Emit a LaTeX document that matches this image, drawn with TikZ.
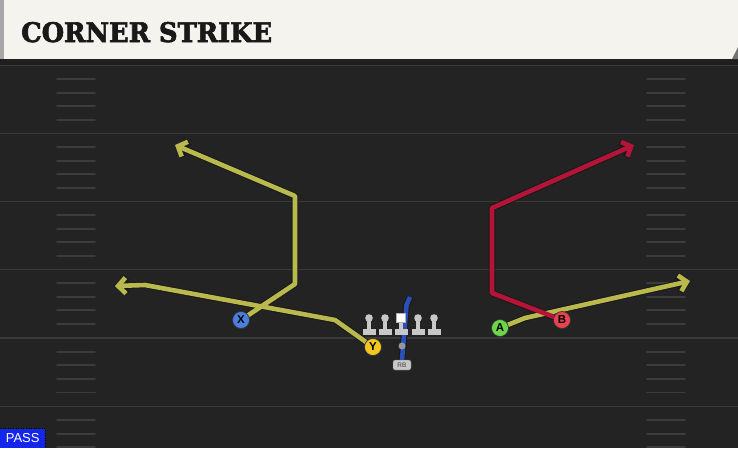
\documentclass[tikz,border=0pt]{standalone}
\usepackage{fontspec}
\usetikzlibrary{arrows.meta}
\newfontfamily\titlefont{DejaVu Serif Bold}[FakeBold=2.5]
\newfontfamily\labfont{Liberation Sans}
\definecolor{fieldbg}{HTML}{232323}
\definecolor{headbg}{HTML}{F5F3EE}
\definecolor{yardc}{HTML}{3A3A3A}
\definecolor{hashc}{HTML}{3C3C3C}
\definecolor{routey}{HTML}{BAB94E}
\definecolor{router}{HTML}{B41437}
\definecolor{routeb}{HTML}{2A4FB8}
\definecolor{px}{HTML}{4A7FE0}
\definecolor{py}{HTML}{F2C81E}
\definecolor{pa}{HTML}{6BD64A}
\definecolor{pb}{HTML}{E8434F}
\definecolor{linec}{HTML}{C8C8C8}
\definecolor{passc}{HTML}{1426EE}
\tikzset{
  routeout/.style={line width=6.6pt, draw=black!90, line join=round, -{Straight Barb[length=7.5pt,width=16pt]}},
  routein/.style={line width=4.6pt, line join=round, -{Straight Barb[length=7.5pt,width=16pt]}},
  routeoutn/.style={line width=6.6pt, draw=black!90, line join=round},
  routeinn/.style={line width=4.6pt, line join=round},
  player/.style={circle, draw=black!80, line width=0.7pt, minimum size=17pt, inner sep=0pt, font=\labfont\bfseries\fontsize{11.5}{11.5}\selectfont},
  yardline/.style={draw=yardc, line width=1.8pt},
  hashmark/.style={draw=hashc, line width=1.8pt, line cap=round},
}
\begin{document}
\begin{tikzpicture}[x=1pt,y=-1pt]
\useasboundingbox (0,0) rectangle (738,448);
% field
\fill[fieldbg] (0,0) rectangle (738,448);
\fill[black!88] (0,59) rectangle (738,65);
% header
\fill[headbg] (0,0) rectangle (738,59);
\fill[black!35] (0,0) rectangle (4,59);
\fill[black!55] (738,47) -- (738,59) -- (732,59) -- cycle;
\node[anchor=base west, inner sep=0pt, text=black!90] (title) at (21,42) {\resizebox{251pt}{20pt}{\titlefont CORNER STRIKE}};
% yard lines
\foreach \yy in {65.5,133.5,201.5,269.5,338,406.5} {
  \draw[yardline] (0,\yy) -- (738,\yy);
}
% hash marks
\foreach \base in {65.5,133.5,201.5,269.5,338,406.5} {
  \foreach \off in {13.6,27.2,40.8,54.4} {
    \pgfmathsetmacro{\hy}{\base+\off}
    \draw[hashmark] (57,\hy) -- (95,\hy);
    \draw[hashmark] (647,\hy) -- (685,\hy);
  }
}
% coordinates
\coordinate (xpos) at (241,320);
\coordinate (ypos) at (373,347);
\coordinate (apos) at (500,328);
\coordinate (bpos) at (562,320);
\coordinate (x1) at (295,284);
\coordinate (x2) at (295,196);
\coordinate (xend) at (175,145);
\coordinate (y1) at (335,320);
\coordinate (y2) at (145,285);
\coordinate (yend) at (115,286);
\coordinate (a1) at (525,318);
\coordinate (aend) at (690,281);
\coordinate (b1) at (492,293);
\coordinate (b2) at (492,208);
\coordinate (bend) at (634,145);
\coordinate (rb1) at (402,360);
\coordinate (rb2) at (406.5,305);
\coordinate (rb3) at (410,297);
% routes outline
\draw[routeout] (xpos) -- (x1) -- (x2) -- (xend);
\draw[routeout] (ypos) -- (y1) -- (y2) -- (yend);
\draw[routeout] (apos) -- (a1) -- (aend);
\draw[routeout] (bpos) -- (b1) -- (b2) -- (bend);
\draw[routeoutn] (rb1) -- (rb2) -- (rb3);
% routes color
\draw[routein, draw=routey] (xpos) -- (x1) -- (x2) -- (xend);
\draw[routein, draw=routey] (ypos) -- (y1) -- (y2) -- (yend);
\draw[routein, draw=routey] (apos) -- (a1) -- (aend);
\draw[routein, draw=router] (bpos) -- (b1) -- (b2) -- (bend);
\draw[routeinn, draw=routeb] (rb1) -- (rb2) -- (rb3);
% linemen
\foreach \lx/\nm in {369/l1,385/l2,418/l4,434/l5} {
  \fill[linec] (\lx,318) circle (3.8pt);
  \fill[linec] (\lx-1.8,318) rectangle (\lx+1.8,330);
  \fill[linec] (\lx-6.5,329) rectangle (\lx+6.5,334.5);
  \coordinate (\nm) at (\lx,318);
}
\fill[linec] (399.2,318) rectangle (402.8,330);
\fill[linec] (394.5,329) rectangle (407.5,334.5);
\node[fill=white, draw=black!30, line width=0.4pt, minimum size=9pt, inner sep=0pt] (center) at (401,318) {};
% QB
\node[circle, fill=linec!75!black, minimum size=7pt, inner sep=0pt] (qb) at (402,346) {};
% RB
\node[rounded corners=2pt, fill=linec, draw=black!60, line width=0.4pt, minimum width=18pt, minimum height=10pt, inner sep=0pt, font=\labfont\fontsize{6.5}{6.5}\selectfont, text=black!75] (rb) at (402,365) {RB};
% players
\node[player, fill=px] (X) at (xpos) {X};
\node[player, fill=py] (Y) at (ypos) {Y};
\node[player, fill=pa] (A) at (apos) {A};
\node[player, fill=pb] (B) at (bpos) {B};
% PASS label
\node[anchor=south west, fill=passc, minimum width=45pt, minimum height=19pt, inner sep=0pt, text=white, font=\labfont\fontsize{13}{13}\selectfont] (pass) at (0,448) {PASS};
\draw[black, dotted, line width=0.6pt] (pass.north west) -- (pass.north east) -- (pass.south east);
\end{tikzpicture}
\end{document}
